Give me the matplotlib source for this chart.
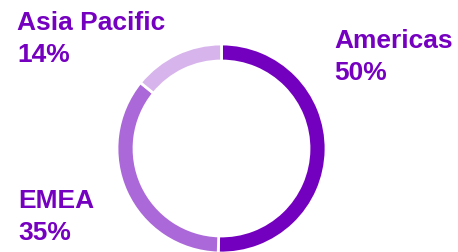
import matplotlib.pyplot as plt

regions = ['Americas', 'EMEA', 'Asia Pacific']
shares = [50, 35, 14]
colors = ['#7400bf', '#ab68d9', '#d8b4ec']
text_color = '#7600c0'

W, H = 458, 252
fig = plt.figure(figsize=(W / 100, H / 100), dpi=100)
ax = fig.add_axes([0, 0, 1, 1])
ax.set_xlim(0, W)
ax.set_ylim(0, H)
ax.set_aspect('equal')
ax.axis('off')

# donut, clockwise from the top
ax.pie(shares, colors=colors, startangle=90, counterclock=False,
       center=(221.5, H - 148.5), radius=104.5,
       wedgeprops=dict(width=17, edgecolor='white', linewidth=2))
ax.set_xlim(0, W)
ax.set_ylim(0, H)

# label positions in pixels (x, baseline y of first line)
label_pos = {'Americas': (334, 48), 'EMEA': (18, 208), 'Asia Pacific': (17, 30)}
for name, val in zip(regions, shares):
    x, y = label_pos[name]
    ax.text(x, H - y, name, color=text_color, fontsize=19, fontweight='bold',
            family='Liberation Sans', va='baseline', ha='left')
    ax.text(x, H - y - 32.5, f'{val}%', color=text_color, fontsize=19, fontweight='bold',
            family='Liberation Sans', va='baseline', ha='left')

fig.savefig('out.png', dpi=100)
